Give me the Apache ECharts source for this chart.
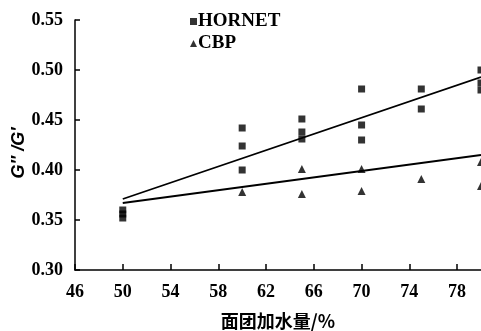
<!DOCTYPE html>
<html><head><meta charset="utf-8">
<script src="https://cdn.jsdelivr.net/npm/echarts@6/dist/echarts.min.js"></script>
<style>html,body{margin:0;padding:0;background:#fff}#c{width:481px;height:331px}</style>
</head><body><div id="c"></div>
<script>
const xTicks = [46, 50, 54, 58, 62, 66, 70, 74, 78];
const yTicks = [0.30, 0.35, 0.40, 0.45, 0.50, 0.55];
const hornetX = [50, 50, 50, 60, 60, 60, 65, 65, 65, 70, 70, 70, 75, 75, 80, 80, 80];
const hornetY = [0.360, 0.356, 0.352, 0.442, 0.424, 0.400, 0.451, 0.438, 0.431, 0.481, 0.445, 0.430, 0.481, 0.461, 0.500, 0.487, 0.480];
const cbpX = [60, 65, 65, 70, 70, 75, 80, 80];
const cbpY = [0.378, 0.401, 0.376, 0.401, 0.379, 0.391, 0.408, 0.384];
const hornetFitX = [50, 80];
const hornetFitY = [0.371, 0.493];
const cbpFitX = [50, 80];
const cbpFitY = [0.367, 0.415];

const zip = (a, b) => a.map((v, i) => [v, b[i]]);
const serif = "'Liberation Serif', 'Times New Roman', serif";

const chart = echarts.init(document.getElementById('c'), null, {renderer: 'canvas'});
chart.setOption({
  animation: false,
  backgroundColor: '#fff',
  grid: {left: 75, right: 0, top: 20, bottom: 61, containLabel: false, outerBoundsMode: 'none'},
  legend: {
    orient: 'vertical', left: 185, top: 7, itemWidth: 7, itemHeight: 7, itemGap: 3,
    textStyle: {fontFamily: serif, fontSize: 19, fontWeight: 'bold', color: '#000', padding: [0,0,0,-4]},
    data: [{name: 'HORNET', icon: 'rect'}, {name: 'CBP', icon: 'triangle'}]
  },
  xAxis: {
    type: 'value', min: xTicks[0], max: 80, interval: 4,
    name: '面团加水量/%', nameLocation: 'middle', nameGap: 42, nameMoveOverlap: false,
    nameTextStyle: {fontFamily: "'Noto Sans CJK SC', sans-serif", fontSize: 18, fontWeight: 'bold', color: '#000'},
    axisLine: {lineStyle: {color: '#000', width: 1.5}},
    axisTick: {inside: true, length: 6, lineStyle: {color: '#000', width: 1.5}},
    axisLabel: {showMaxLabel: false, margin: 13, fontFamily: serif, fontSize: 18, fontWeight: 'bold', color: '#000',
      formatter: v => xTicks.includes(v) ? String(v) : ''},
    splitLine: {show: false}
  },
  yAxis: {
    type: 'value', min: yTicks[0], max: yTicks[yTicks.length - 1], interval: 0.05,
    name: 'G″ /G′', nameLocation: 'middle', nameGap: 47, nameRotate: 90, nameMoveOverlap: false,
    nameTextStyle: {fontFamily: "'Liberation Sans', sans-serif", fontSize: 18, fontWeight: 'bold', fontStyle: 'italic', color: '#000', padding: [0, 16, 0, 0]},
    axisLine: {show: true, lineStyle: {color: '#000', width: 1.5}},
    axisTick: {show: true, inside: true, length: 5, lineStyle: {color: '#000', width: 1.5}},
    axisLabel: {margin: 12, fontFamily: serif, fontSize: 18, fontWeight: 'bold', color: '#000',
      formatter: v => v.toFixed(2)},
    splitLine: {show: false}
  },
  series: [
    {name: 'HORNET', type: 'scatter', symbol: 'rect', symbolSize: 7, itemStyle: {color: '#000'}, data: zip(hornetX, hornetY), z: 3},
    {name: 'CBP', type: 'scatter', symbol: 'triangle', symbolSize: 8, itemStyle: {color: '#000'}, data: zip(cbpX, cbpY), z: 3},
    {name: 'HORNET fit', type: 'line', showSymbol: false, symbol: 'none', lineStyle: {color: '#000', width: 1.8}, data: zip(hornetFitX, hornetFitY), z: 2},
    {name: 'CBP fit', type: 'line', showSymbol: false, symbol: 'none', lineStyle: {color: '#000', width: 1.8}, data: zip(cbpFitX, cbpFitY), z: 2}
  ]
});
</script></body></html>
